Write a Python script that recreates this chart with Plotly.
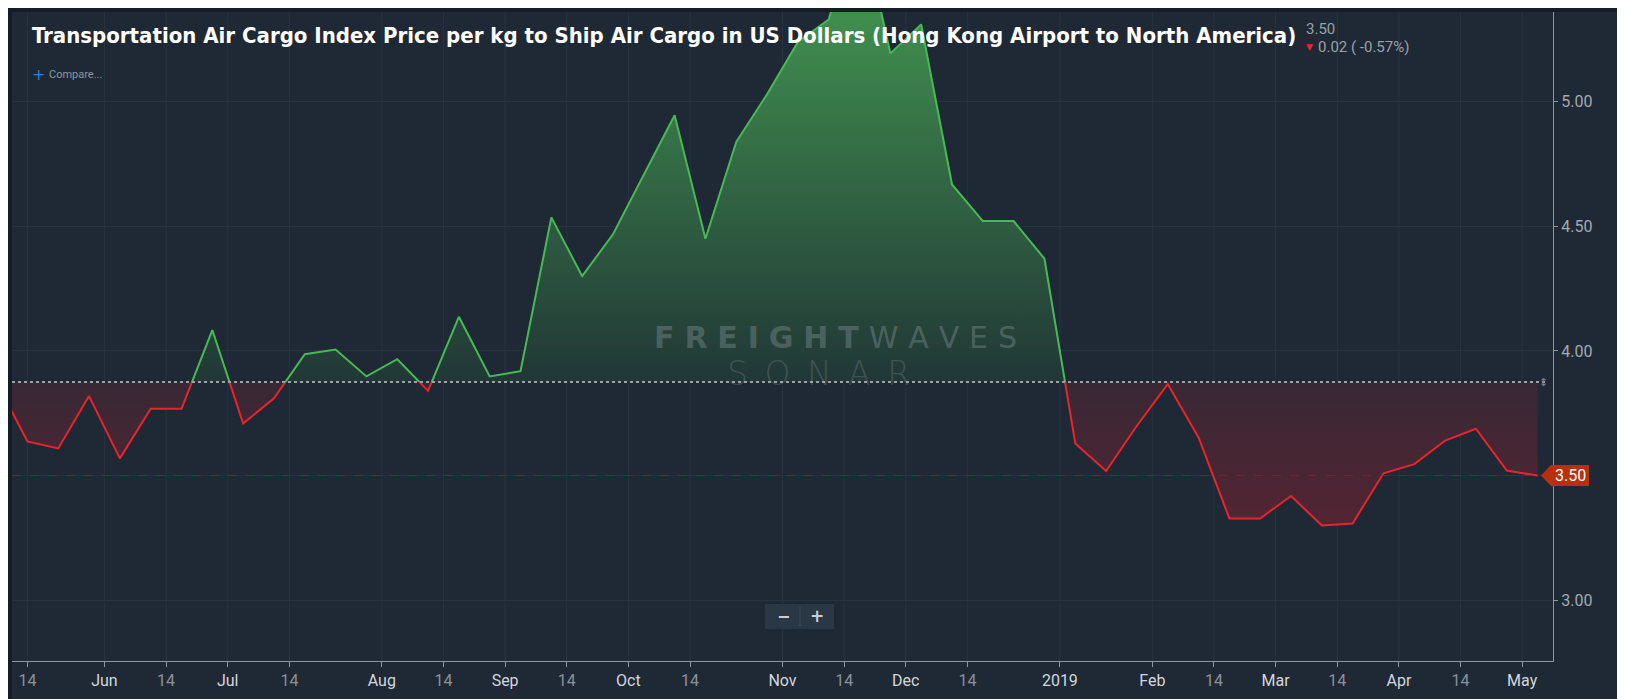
import numpy as np
import pandas as pd
import plotly.graph_objects as go

# weekly TAC index, Hong Kong -> North America (USD per kg); two holiday weeks have no print
dates = pd.date_range("2018-05-07", "2019-05-06", freq="W-MON").drop(
    pd.to_datetime(["2019-01-21", "2019-04-22"]))
values = [3.875, 3.637, 3.609, 3.819, 3.569, 3.768, 3.768, 4.084, 3.709, 3.810,
          3.987, 4.006, 3.898, 3.967, 3.840, 4.137, 3.898, 3.919, 4.536, 4.300,
          4.468, 4.710, 4.946, 4.450, 4.839, 5.030, 5.240, 5.330, 5.750, 5.194,
          5.310, 4.668, 4.521, 4.521, 4.370, 3.629, 3.518, 3.700, 3.867, 3.653,
          3.328, 3.328, 3.418, 3.300, 3.308, 3.509, 3.546, 3.640, 3.688, 3.520,
          3.500]

tick_dates = ["2018-05-14", "2018-06-01", "2018-06-14", "2018-07-01", "2018-07-14",
              "2018-08-01", "2018-08-14", "2018-09-01", "2018-09-14", "2018-10-01",
              "2018-10-14", "2018-11-01", "2018-11-14", "2018-12-01", "2018-12-14",
              "2019-01-01", "2019-02-01", "2019-02-14", "2019-03-01", "2019-03-14",
              "2019-04-01", "2019-04-14", "2019-05-01"]
tick_labels = ["14", "Jun", "14", "Jul", "14", "Aug", "14", "Sep", "14", "Oct", "14",
               "Nov", "14", "Dec", "14", "2019", "Feb", "14", "Mar", "14", "Apr", "14", "May"]
y_ticks = [3.0, 3.5, 4.0, 4.5, 5.0]

TITLE = "Transportation Air Cargo Index Price per kg to Ship Air Cargo in US Dollars (Hong Kong Airport to North America)"

BG = "#1e2935"
DARK = "#151d25"
GRID = "#27343f"
AXIS = "#8f969c"
GREEN = "#48b957"
RED = "#e8242c"

W, H = 1625, 699
OFF = 8  # page offset of the figure
# plot area on the page: x 12..1553, y 12..661
ML, MT = 12 - OFF, 12 - OFF
MR = W + OFF - 1553
MB = H + OFF - 661
PW, PH = W - ML - MR, H - MT - MB

def xp(px):
    return (px - 12) / PW

def yp(py):
    return (661 - py) / PH

x = np.arange(len(values))
x_range = [0.5, len(values) - 0.5]
base = values[0]
last, prev = values[-1], values[-2]
y_lo, y_hi = 2.756, 5.36
split = (base - y_lo) / (y_hi - y_lo)
px_unit = (y_hi - y_lo) / PH

# ordinal x axis: a tick sits between the last print before its date and the first one on/after it
tick_pos = np.searchsorted(dates.values, pd.to_datetime(tick_dates).values) - 0.5
tick_pos = np.maximum(tick_pos, np.ceil(x_range[0]))
tick_text = []
for t in tick_labels:
    if t == "14":
        tick_text.append("<span style='color:#8a9299'>14</span>")
    else:
        tick_text.append(t)
y_text = ["" if abs(v - last) < 0.05 else f"{v:.2f}" for v in y_ticks]

fig = go.Figure()
fig.add_trace(go.Scatter(x=x, y=[base] * len(x), mode="lines", line=dict(width=0),
                         hoverinfo="skip", showlegend=False))
fig.add_trace(go.Scatter(
    x=x, y=values, mode="lines", line=dict(width=0), fill="tonexty",
    fillgradient=dict(type="vertical", start=y_lo, stop=y_hi,
                      colorscale=[[0, "rgb(110,33,50)"], [split, "rgb(56,40,52)"],
                                  [split, "rgb(33,55,54)"], [1, "rgb(64,142,78)"]]),
    hoverinfo="skip", showlegend=False))
# green above the base line, red below: each drawn on an axis clipped to its half
fig.add_trace(go.Scatter(x=x, y=values, mode="lines", line=dict(color=GREEN, width=2),
                         yaxis="y2", showlegend=False))
fig.add_trace(go.Scatter(x=x, y=values, mode="lines", line=dict(color=RED, width=2),
                         yaxis="y3", showlegend=False))

shapes = [
    dict(type="rect", xref="paper", yref="paper", x0=-0.05, x1=0, y0=-0.2, y1=1.1,
         fillcolor=DARK, line=dict(width=0)),
    dict(type="rect", xref="paper", yref="paper", x0=-0.05, x1=1.1, y0=1, y1=1.1,
         fillcolor=DARK, line=dict(width=0)),
]
# vertical grid as shapes so it stays under the fill
for tp in tick_pos:
    shapes.append(dict(type="line", xref="x", yref="paper", x0=tp, x1=tp, y0=0, y1=1,
                       layer="below", line=dict(color=GRID, width=1)))
shapes += [
    dict(type="line", xref="paper", yref="y", x0=0, x1=1, y0=last, y1=last,
         line=dict(color="rgba(120,40,52,0.7)", width=1, dash="dash")),
    dict(type="line", xref="paper", yref="y", x0=0, x1=xp(1547), y0=base, y1=base,
         line=dict(color="#9ca1a6", width=2, dash="dot")),
    dict(type="path", xref="paper", yref="y", fillcolor="#b8300e", line=dict(width=0),
         path=f"M {xp(1541)} {last} L {xp(1551)} {last + 10.5 * px_unit} "
              f"L {xp(1589)} {last + 10.5 * px_unit} L {xp(1589)} {last - 10.5 * px_unit} "
              f"L {xp(1551)} {last - 10.5 * px_unit} Z"),
    dict(type="rect", xref="paper", yref="paper", x0=xp(765), x1=xp(834), y0=yp(629), y1=yp(604),
         fillcolor="#2a3845", line=dict(width=0)),
    dict(type="line", xref="paper", yref="paper", x0=xp(800), x1=xp(800), y0=yp(626), y1=yp(607),
         line=dict(color="#3e4d5a", width=1)),
]

chg = last - prev
pct = chg / prev * 100
spaced = "\u2004".join

annotations = [
    dict(text=f"<b>{TITLE}</b>", x=xp(30), y=yp(36), xanchor="left", yanchor="middle",
         font=dict(family="Liberation Sans Narrow, DejaVu Sans Condensed, Roboto", size=22, color="white")),
    dict(text=f"{last:.2f}", x=xp(1304), y=yp(29), xanchor="left", yanchor="middle",
         font=dict(family="Roboto", size=15, color="#9aa1a8")),
    dict(text="▼", x=xp(1304), y=yp(47), xanchor="left", yanchor="middle",
         font=dict(family="DejaVu Sans", size=9, color=RED)),
    dict(text=f"{abs(chg):.2f} ( {pct:.2f}%)", x=xp(1316), y=yp(47), xanchor="left", yanchor="middle",
         font=dict(family="Roboto", size=15, color="#9aa1a8")),
    dict(text="+", x=xp(30), y=yp(74), xanchor="left", yanchor="middle",
         font=dict(family="DejaVu Sans", size=16, color="#2f7fd6")),
    dict(text="Compare...", x=xp(47), y=yp(74), xanchor="left", yanchor="middle",
         font=dict(family="Liberation Sans Narrow, Roboto", size=11, color="#8e969d")),
    dict(text="<b>" + spaced("FREIGHT") + "</b>\u2004" + spaced("WAVES"), x=xp(835), y=yp(337),
         xanchor="center", yanchor="middle",
         font=dict(family="DejaVu Sans", size=30, color="rgba(170,180,185,0.3)")),
    dict(text="\u2002".join("SONAR"), x=xp(818), y=yp(373), xanchor="center", yanchor="middle",
         font=dict(family="DejaVu Sans", size=33, weight=200, color="rgba(170,180,185,0.22)")),
    dict(text="<b>−</b>", x=xp(783), y=yp(616), xanchor="center", yanchor="middle",
         font=dict(family="DejaVu Sans", size=16, color="#c9ced3")),
    dict(text="<b>+</b>", x=xp(817), y=yp(616), xanchor="center", yanchor="middle",
         font=dict(family="DejaVu Sans", size=17, color="#c9ced3")),
    dict(text=f"{last:.2f}", x=xp(1570), y=last, yref="y", xanchor="center", yanchor="middle",
         font=dict(family="Roboto", size=16, color="white")),
    dict(text="↕", x=xp(1543), y=base, yref="y", xanchor="center", yanchor="middle",
         font=dict(family="DejaVu Sans", size=11, color="#7d858c")),
]
for a in annotations:
    a.setdefault("xref", "paper")
    a.setdefault("yref", "paper")
    a["showarrow"] = False

fig.update_layout(
    width=W, height=H,
    margin=dict(l=ML, r=MR, t=MT, b=MB),
    paper_bgcolor=BG, plot_bgcolor="rgba(0,0,0,0)",
    font=dict(family="Roboto", color="#d3d7db"),
    xaxis=dict(range=x_range, tickvals=tick_pos, ticktext=tick_text,
               showgrid=False, zeroline=False,
               showline=True, linecolor=AXIS, linewidth=1, ticks="outside", ticklen=5,
               tickcolor=AXIS, tickfont=dict(size=16, color="#d3d7db"), fixedrange=True),
    yaxis=dict(side="right", range=[y_lo, y_hi], tickvals=y_ticks, ticktext=y_text,
               showgrid=True, gridcolor=GRID, zeroline=False, showline=True,
               linecolor=AXIS, linewidth=1, ticks="outside", ticklen=4, tickcolor=AXIS,
               tickfont=dict(size=16, color="#a3aab0"), fixedrange=True),
    yaxis2=dict(domain=[split, 1], range=[base, y_hi], visible=False, anchor="x", fixedrange=True),
    yaxis3=dict(domain=[0, split], range=[y_lo, base], visible=False, anchor="x", fixedrange=True),
    shapes=shapes, annotations=annotations, showlegend=False,
)

fig.write_html("out.html")
